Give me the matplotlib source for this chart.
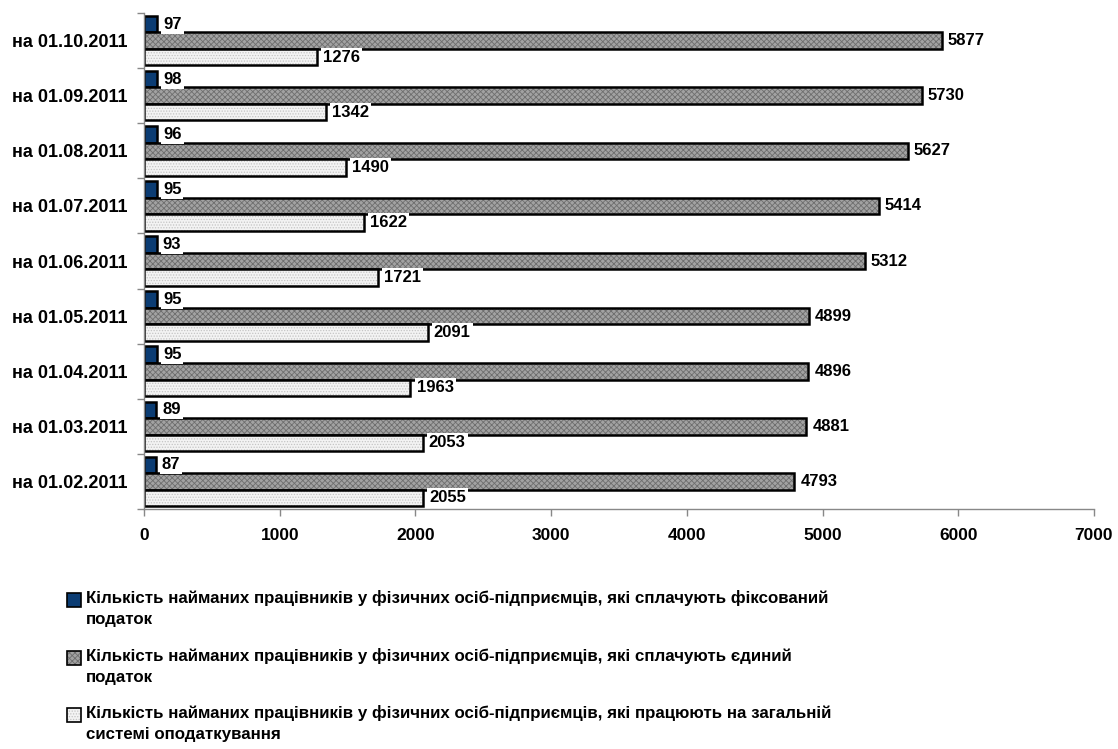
import numpy as np
import matplotlib
matplotlib.use("Agg")
import matplotlib.pyplot as plt
from matplotlib.patches import Rectangle

plt.rcParams['font.family'] = ['Liberation Sans', 'DejaVu Sans']
plt.rcParams['font.weight'] = 'bold'
plt.rcParams['hatch.linewidth'] = 0.6

dates = ["на 01.02.2011", "на 01.03.2011", "на 01.04.2011", "на 01.05.2011",
         "на 01.06.2011", "на 01.07.2011", "на 01.08.2011", "на 01.09.2011",
         "на 01.10.2011"]
fixed_tax = [87, 89, 95, 95, 93, 95, 96, 98, 97]
single_tax = [4793, 4881, 4896, 4899, 5312, 5414, 5627, 5730, 5877]
general_tax = [2055, 2053, 1963, 2091, 1721, 1622, 1490, 1342, 1276]

legend_labels = [
    "Кількість найманих працівників у фізичних осіб-підприємців, які сплачують фіксований\nподаток",
    "Кількість найманих працівників у фізичних осіб-підприємців, які сплачують єдиний\nподаток",
    "Кількість найманих працівників у фізичних осіб-підприємців, які працюють на загальній\nсистемі оподаткування",
]

# (face, hatch, hatch colour)
styles = [
    ("#0b3c73", None, None),
    ("#a2a2a2", "xxxxxx", "#6e6e6e"),
    ("#f3f3f3", "......", "#c4c4c4"),
]

fig = plt.figure(figsize=(11.18, 7.49), dpi=100)
ax = fig.add_axes([0.1288, 0.3204, 0.8497, 0.6622])

y = np.arange(len(dates))
h = 0.3
series = [fixed_tax, single_tax, general_tax]
offsets = [h, 0, -h]

for vals, off, (face, hatch, hcol) in zip(series, offsets, styles):
    if hatch:
        ax.barh(y + off, vals, height=h, color=face, hatch=hatch,
                edgecolor=hcol, linewidth=0)
        ax.barh(y + off, vals, height=h, fill=False, edgecolor="black",
                linewidth=1.8)
    else:
        ax.barh(y + off, vals, height=h, color=face, edgecolor="black",
                linewidth=1.8)
    for yi, v in zip(y, vals):
        ax.text(v + 45, yi + off, str(v), va="center", ha="left",
                fontsize=12, fontweight="bold", zorder=5,
                bbox=dict(facecolor="white", edgecolor="none", pad=1.5))

ax.set_xlim(0, 7000)
ax.set_ylim(-0.5, len(dates) - 0.5)
ax.set_xticks(np.arange(0, 7001, 1000))
ax.set_xticklabels([str(t) for t in range(0, 7001, 1000)], fontsize=12.5,
                   fontweight="bold")
ax.set_yticks(y)
ax.set_yticklabels(dates, fontsize=13, fontweight="bold")
ax.set_yticks(np.arange(-0.5, len(dates), 1), minor=True)
ax.tick_params(axis="y", which="major", length=0, pad=12)
ax.tick_params(axis="y", which="minor", length=5, color="#888888", width=1)
ax.tick_params(axis="x", length=5, color="#888888", width=1, pad=9)
for side in ["top", "right"]:
    ax.spines[side].set_visible(False)
for side in ["left", "bottom"]:
    ax.spines[side].set_color("#888888")
    ax.spines[side].set_linewidth(1)

# legend below the chart
leg_tops = [590, 648, 705]
for (face, hatch, hcol), label, top in zip(styles, legend_labels, leg_tops):
    x0 = 67 / 1118
    w = 14 / 1118
    hh = 14 / 749
    y0 = 1 - (top + 17) / 749
    if hatch:
        fig.patches.append(Rectangle((x0, y0), w, hh, transform=fig.transFigure,
                                     facecolor=face, hatch=hatch, edgecolor=hcol,
                                     linewidth=0))
        fig.patches.append(Rectangle((x0, y0), w, hh, transform=fig.transFigure,
                                     fill=False, edgecolor="black", linewidth=1.2))
    else:
        fig.patches.append(Rectangle((x0, y0), w, hh, transform=fig.transFigure,
                                     facecolor=face, edgecolor="black",
                                     linewidth=1.2))
    fig.text(86 / 1118, 1 - top / 749, label, ha="left", va="top",
             fontsize=12.2, fontweight="bold", linespacing=1.5)

fig.savefig("out.png", dpi=100)
